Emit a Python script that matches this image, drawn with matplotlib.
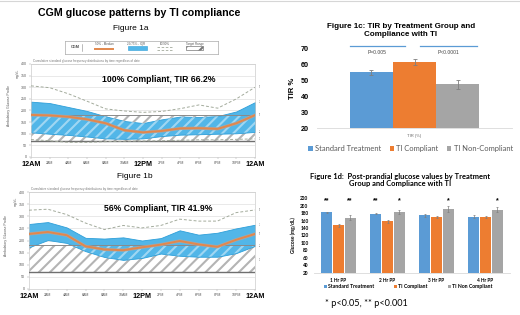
import numpy as np
import matplotlib
matplotlib.use('Agg')
import matplotlib.pyplot as plt
from matplotlib.patches import Rectangle
from matplotlib.lines import Line2D
from matplotlib.transforms import Bbox, TransformedBbox

plt.rcParams['font.family'] = ['Liberation Sans', 'DejaVu Sans']
plt.rcParams['hatch.linewidth'] = 1.5

# --- AGP data (mg/dL, every 2 hours) ---
hours = [0, 2, 4, 6, 8, 10, 12, 14, 16, 18, 20, 22, 24]
tick_names = ['12AM', '2AM', '4AM', '6AM', '8AM', '10AM', '12PM', '2PM', '4PM', '6PM', '8PM', '10PM', '12AM']
target_low, target_high = 70, 180

a_p90 = [306, 298, 272, 240, 207, 198, 192, 196, 208, 224, 210, 250, 300]
a_p75 = [238, 232, 215, 198, 175, 155, 146, 162, 174, 172, 176, 196, 236]
a_p50 = [181, 179, 173, 162, 145, 115, 106, 112, 123, 124, 121, 145, 180]
a_p25 = [106, 100, 95, 88, 80, 78, 80, 90, 96, 98, 100, 102, 108]
a_p10 = [75, 70, 63, 63, 66, 68, 69, 70, 72, 74, 74, 76, 78]

b_p90 = [325, 329, 307, 272, 245, 262, 252, 262, 288, 280, 280, 315, 326]
b_p75 = [268, 276, 254, 211, 208, 213, 200, 210, 242, 224, 232, 250, 265]
b_p50 = [227, 235, 222, 176, 163, 160, 172, 183, 198, 184, 174, 203, 227]
b_p25 = [172, 202, 190, 156, 132, 120, 128, 146, 137, 133, 133, 148, 178]
b_p10 = [135, 150, 140, 120, 105, 95, 100, 110, 108, 105, 105, 112, 120]

# --- Figure 1c data ---
tir_groups = ['Standard Treatment', 'TI Compliant', 'TI Non-Compliant']
tir_vals = [55, 61.5, 47.5]
tir_err = [1.5, 2.0, 3.0]

# --- Figure 1d data ---
pp_cats = ['1 Hr PP', '2 Hr PP', '3 Hr PP', '4 Hr PP']
pp_std = [182, 179, 174, 171]
pp_comp = [147, 158, 169, 169]
pp_non = [168, 183, 191, 189]
pp_std_err = [2, 2, 3, 3]
pp_comp_err = [4, 4, 3, 3]
pp_non_err = [6, 6, 7, 7]
sig_std = ['**', '**', '', '']
sig_comp = ['', '', '', '']
sig_non = ['**', '*', '*', '*']
pp_labels = ['Standard Treatment', 'TI Compliant', 'TI Non Compliant']

colors = ['#5b9bd5', '#ed7d31', '#a5a5a5']
band_blue = '#52b6e8'
calibri = ['Lato', 'DejaVu Sans']

fig = plt.figure(figsize=(5.2, 3.15), dpi=100)
left_clip = TransformedBbox(Bbox.from_extents(0, 0, 260 / 520, 1), fig.transFigure)


def agp(ax, p90, p75, p50, p25, p10, label, show_p10):
    ax.set_xlim(0, 24)
    ax.set_ylim(0, 400)
    for v in range(0, 401, 50):
        ax.axhline(v, color='#e0e0e0', lw=0.5, zorder=0)
    ax.add_patch(Rectangle((0, target_low), 24, target_high - target_low, facecolor='white',
                           edgecolor='#b4b4b4', hatch='///', lw=0, zorder=1))
    band = ax.fill_between(hours, p25, p75, facecolor=band_blue, edgecolor='#2e9fd9', lw=0.6, zorder=2)
    stripes = Rectangle((0, target_low), 24, target_high - target_low, facecolor='none',
                        edgecolor=(1, 1, 1, 0.45), hatch='///', lw=0, zorder=3)
    ax.add_patch(stripes)
    stripes.set_clip_path(band.get_paths()[0], ax.transData)
    ax.axhline(target_low, color='#6f6f6f', lw=1.0, zorder=4)
    ax.axhline(target_high, color='#8a8a8a', lw=0.7, zorder=4)
    ax.plot(hours, p90, color='#a3ab9c', lw=0.7, dashes=(3, 2), zorder=4)
    if show_p10:
        ax.plot(hours, p10, color='#a3ab9c', lw=0.7, dashes=(3, 2), zorder=4)
    ax.plot(hours, p50, color='#a8a8a8', lw=2.3, zorder=5)
    ax.plot(hours, p50, color='#e2874c', lw=1.4, zorder=6)
    for name, s in zip(['90%', '75%', '50%', '25%', '10%'], [p90, p75, p50, p25, p10]):
        t = ax.text(24.4, s[-1], name, fontsize=2.6, va='center', color='#555555', clip_on=True)
        t.set_clip_box(left_clip)
    ax.set_xticks(hours)
    ax.set_xticklabels(tick_names)
    for lab in ax.get_xticklabels():
        if lab.get_text() in ('12AM', '12PM'):
            lab.set_fontsize(5.2)
            lab.set_fontweight('bold')
        else:
            lab.set_fontsize(2.6)
            lab.set_color('#555555')
    ax.set_yticks(range(0, 401, 50))
    ax.tick_params(axis='x', length=1.5, width=0.3, pad=1.5, color='#999999')
    ax.tick_params(axis='y', labelsize=2.6, labelcolor='#555555', length=1.5, width=0.3, pad=1.5,
                   color='#999999')
    for sp in ax.spines.values():
        sp.set_color('#cccccc')
        sp.set_linewidth(0.5)
    ax.text(0.57, 0.83, label, transform=ax.transAxes, ha='center', va='center',
            fontsize=6.2, fontweight='bold')
    ax.text(0.01, 1.015, 'Cumulative standard glucose frequency distributions by time regardless of date',
            transform=ax.transAxes, fontsize=2.2, color='#777777', va='bottom')
    ax.text(-0.058, 0.9, 'mg/dL', transform=ax.transAxes, fontsize=2.4, rotation=90,
            ha='center', va='center', color='#555555')
    ax.text(-0.1, 0.55, 'Ambulatory Glucose Profile', transform=ax.transAxes, fontsize=2.4,
            rotation=90, ha='center', va='center', color='#555555')


ax_a = fig.add_axes([31 / 520, 1 - 157 / 315, 224 / 520, 93 / 315])
agp(ax_a, a_p90, a_p75, a_p50, a_p25, a_p10, '100% Compliant, TIR 66.2%', True)
ax_b = fig.add_axes([29 / 520, 1 - 289 / 315, 226 / 520, 97 / 315])
agp(ax_b, b_p90, b_p75, b_p50, b_p25, b_p10, '56% Compliant, TIR 41.9%', False)

fig.text(139 / 520, 1 - 13 / 315, 'CGM glucose patterns by TI compliance', ha='center', va='center',
         fontsize=7.7, fontweight='bold')
fig.text(131 / 520, 1 - 28.3 / 315, 'Figure 1a', ha='center', va='center', fontsize=6.0)
fig.text(135 / 520, 1 - 176.7 / 315, 'Figure 1b', ha='center', va='center', fontsize=6.0)

# AGP legend box
lax = fig.add_axes([65 / 520, 1 - 54 / 315, 153 / 520, 13 / 315])
lax.set_xlim(65, 218)
lax.set_ylim(54, 41)
lax.set_xticks([])
lax.set_yticks([])
for sp in lax.spines.values():
    sp.set_color('#aaaaaa')
    sp.set_linewidth(0.5)
lax.text(75.5, 47.5, 'CGM', fontsize=2.8, fontweight='bold', color='#555555', ha='center', va='center')
lax.plot([81.7, 81.7], [44, 51], color='#888888', lw=0.4)
lax.text(104, 43.8, '50% - Median', fontsize=2.2, color='#555555', ha='center', va='center')
lax.plot([95, 113], [48.5, 48.5], color='#e2874c', lw=1.4)
lax.text(136, 43.8, '25/75% - IQR', fontsize=2.2, color='#555555', ha='center', va='center')
lax.add_patch(Rectangle((128, 46), 19, 4, facecolor=band_blue, edgecolor='#2e9fd9', lw=0.4))
lax.text(165, 43.8, '10/90%', fontsize=2.2, color='#555555', ha='center', va='center')
lax.plot([157, 173], [47, 47], color='#a3ab9c', lw=0.6, dashes=(3, 2))
lax.plot([157, 173], [49.5, 49.5], color='#a3ab9c', lw=0.6, dashes=(3, 2))
lax.text(194.5, 43.8, 'Target Range', fontsize=2.2, color='#555555', ha='center', va='center')
lax.add_patch(Rectangle((186, 46), 17, 4, facecolor='white', edgecolor='#777777', hatch='//', lw=0.5))

# --- Figure 1c ---
ax_c = fig.add_axes([317 / 520, 1 - 128.3 / 315, 195 / 520, 80 / 315])
bw = 0.222
tir_bars = []
for i, (g, v, e) in enumerate(zip(tir_groups, tir_vals, tir_err)):
    b = ax_c.bar((i - 1) * bw, v, bw, color=colors[i], label=g, yerr=e, capsize=1.5,
                 error_kw=dict(elinewidth=0.6, ecolor='#7f7f7f', capthick=0.6), zorder=2)
    tir_bars.append(b)
ax_c.set_xlim(-0.5, 0.5)
ax_c.set_ylim(20, 70)
ax_c.set_yticks(range(20, 71, 10))
ax_c.set_xticks([0])
ax_c.set_xticklabels(['TIR (%)'], fontsize=3, color='#666666')
for lab in ax_c.get_yticklabels():
    lab.set_fontweight('bold')
ax_c.tick_params(axis='y', labelsize=5.2, length=0, pad=6)
ax_c.tick_params(axis='x', length=0, pad=4)
for s in ['top', 'right', 'left']:
    ax_c.spines[s].set_visible(False)
ax_c.spines['bottom'].set_color('#d9d9d9')
ax_c.spines['bottom'].set_linewidth(0.6)
ax_c.set_ylabel('TIR %', fontsize=5.6, fontweight='bold', labelpad=3)
ax_c.plot([-1.5 * bw, -0.05], [71.6, 71.6], color='#5b9bd5', lw=0.9, clip_on=False)
ax_c.plot([0.028, 1.5 * bw - 0.01], [71.6, 71.6], color='#5b9bd5', lw=0.9, clip_on=False)
ax_c.text(-0.19, 67.3, 'P=0.005', fontsize=3.6, ha='center', va='center', color='#444444')
ax_c.text(0.175, 67.3, 'P<0.0001', fontsize=3.6, ha='center', va='center', color='#444444')
ax_c.legend(handles=tir_bars, loc='center', bbox_to_anchor=(0.48, -0.25), ncol=3, frameon=False,
            prop={'family': calibri, 'size': 5.4}, labelcolor='#595959', handlelength=0.6,
            handleheight=0.6, handletextpad=0.3, columnspacing=1.1, borderpad=0)
fig.text(401 / 520, 1 - 30.5 / 315, 'Figure 1c: TIR by Treatment Group and\nCompliance with TI',
         ha='center', va='center', fontsize=5.8, fontweight='bold', linespacing=1.1)

# --- Figure 1d ---
ax_d = fig.add_axes([314 / 520, 1 - 272.7 / 315, 196 / 520, 74.4 / 315])
x = np.arange(len(pp_cats))
w = 0.225
off = 0.235
ek = dict(elinewidth=0.5, ecolor='#7f7f7f', capthick=0.5)
d_bars = []
for j, (vals, errs, sig) in enumerate([(pp_std, pp_std_err, sig_std), (pp_comp, pp_comp_err, sig_comp),
                                       (pp_non, pp_non_err, sig_non)]):
    b = ax_d.bar(x + (j - 1) * off, vals, w, color=colors[j], label=pp_labels[j], yerr=errs,
                 capsize=1, error_kw=ek, zorder=2)
    d_bars.append(b)
    for xi, s in zip(x, sig):
        if s:
            ax_d.text(xi + (j - 1) * off, 213, s, ha='center', va='center', fontsize=5,
                      fontweight='bold', clip_on=False)
ax_d.set_xlim(-0.5, 3.5)
ax_d.set_ylim(20, 220)
ax_d.set_yticks(range(20, 221, 20))
ax_d.set_xticks(x)
ax_d.set_xticklabels(pp_cats)
for lab in ax_d.get_xticklabels() + ax_d.get_yticklabels():
    lab.set_fontweight('bold')
    lab.set_fontfamily(calibri)
ax_d.tick_params(axis='y', labelsize=3.4, length=0, pad=4)
ax_d.tick_params(axis='x', labelsize=3.4, length=0, pad=3.5)
for s in ['top', 'right', 'left']:
    ax_d.spines[s].set_visible(False)
ax_d.spines['bottom'].set_color('#d9d9d9')
ax_d.spines['bottom'].set_linewidth(0.6)
ax_d.set_ylabel('Glucose (mg/dL)', fontsize=3.6, fontweight='bold', fontfamily=calibri, labelpad=3)
ax_d.legend(handles=d_bars, loc='center', bbox_to_anchor=(0.48, -0.19), ncol=3, frameon=False,
            prop={'family': calibri, 'size': 3.7, 'weight': 'bold'}, handlelength=0.5,
            handleheight=0.5, handletextpad=0.2, columnspacing=4.0, borderpad=0)
fig.text(400.5 / 520, 1 - 180 / 315,
         'Figure 1d:  Post-prandial glucose values by Treatment\nGroup and Compliance with TI',
         ha='center', va='center', fontsize=5.4, fontweight='bold', fontfamily=calibri, linespacing=1.15)
fig.text(366 / 520, 1 - 304 / 315, '* p<0.05, ** p<0.001', ha='center', va='center', fontsize=6.6,
         fontfamily=calibri)

fig.add_artist(Line2D([0, 1], [0.997, 0.997], color='#d6d6d6', lw=0.8))

fig.savefig('out.png', dpi=100)
